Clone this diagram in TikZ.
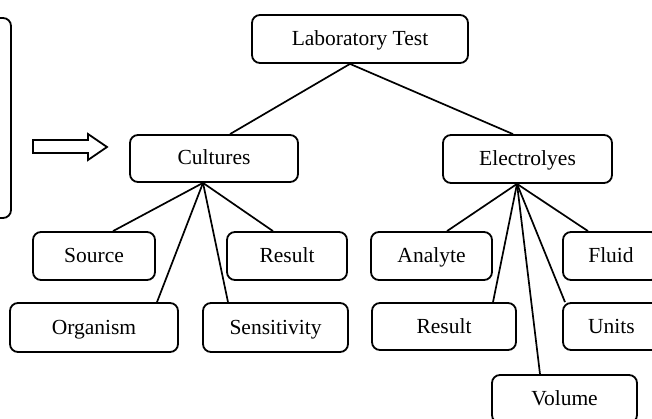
\documentclass[tikz,border=0pt]{standalone}
\usepackage{fontspec}
\setmainfont{Liberation Serif}
\usetikzlibrary{calc}
\begin{document}
\begin{tikzpicture}[x=1pt,y=-1pt,
  box/.style={draw,line width=1.8pt,rounded corners=8pt,inner sep=0pt,
    text height=14pt,text depth=1pt,
    font=\fontsize{21.5}{25}\selectfont},
  conn/.style={line width=1.7pt}]
\useasboundingbox (0,0) rectangle (652,419);
\clip (0,0) rectangle (652,419);
% left partial box
\draw[line width=1.8pt,rounded corners=8pt] (-30,18) -- (11,18) -- (11,218) -- (-30,218);
% hollow arrow
\draw[line width=1.8pt,line join=miter] (33,140) -- (88,140) -- (88,134) -- (107,147) -- (88,160) -- (88,153) -- (33,153) -- cycle;
% nodes
\node[box,minimum width=216pt,minimum height=48pt] (lab) at (360,39) {Laboratory Test};
\node[box,minimum width=168pt,minimum height=47pt] (cult) at (214,158.5) {Cultures};
\node[box,minimum width=169pt,minimum height=48pt] (elec) at (527.5,159) {Electrolyes};
\node[box,minimum width=122pt,minimum height=48pt] (source) at (94,256) {Source};
\node[box,minimum width=120pt,minimum height=48pt] (res1) at (287,256) {Result};
\node[box,minimum width=168pt,minimum height=49pt] (org) at (94,327.5) {Organism};
\node[box,minimum width=145pt,minimum height=49pt] (sens) at (275.5,327.5) {Sensitivity};
\node[box,minimum width=121pt,minimum height=48pt] (analyte) at (431.5,256) {Analyte};
\node[box,minimum width=96pt,minimum height=48pt] (fluid) at (611,256) {Fluid};
\node[box,minimum width=144pt,minimum height=47pt] (res2) at (444,326.5) {Result};
\node[box,minimum width=97pt,minimum height=47pt] (units) at (611.5,326.5) {Units};
\node[box,minimum width=145pt,minimum height=48pt] (volume) at (564.5,399) {Volume};
% connectors
\coordinate (labb) at ($(lab.south)+(-10,0)$);
\coordinate (cultb) at ($(cult.south)+(-11,0)$);
\coordinate (elecb) at ($(elec.south)+(-10.5,0)$);
\draw[conn] (labb) -- ($(cult.north)+(16,0)$);
\draw[conn] (labb) -- ($(elec.north)+(-14.5,0)$);
\draw[conn] (cultb) -- ($(source.north)+(19,0)$);
\draw[conn] (cultb) -- ($(org.north)+(63,0)$);
\draw[conn] (cultb) -- ($(sens.north)+(-47.5,0)$);
\draw[conn] (cultb) -- ($(res1.north)+(-14,0)$);
\draw[conn] (elecb) -- ($(analyte.north)+(15.5,0)$);
\draw[conn] (elecb) -- ($(res2.north)+(49,0)$);
\draw[conn] (elecb) -- ($(volume.north)+(-24.5,0)$);
\draw[conn] (elecb) -- ($(units.north)+(-46.5,0)$);
\draw[conn] (elecb) -- ($(fluid.north)+(-23,0)$);
\end{tikzpicture}
\end{document}
